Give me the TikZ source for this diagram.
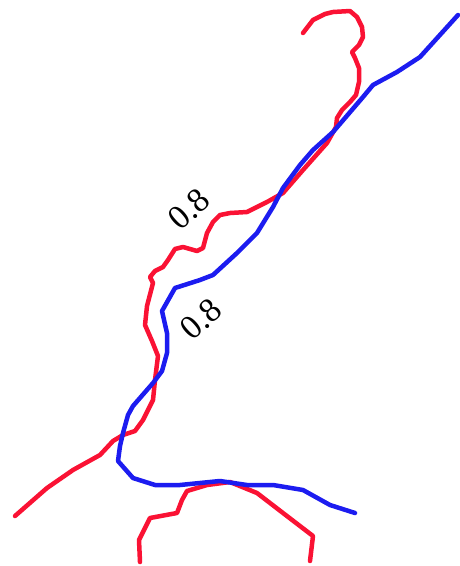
\documentclass[tikz,border=0pt]{standalone}
\usepackage{fontspec}
\setmainfont{Liberation Serif}
\definecolor{cred}{RGB}{250,18,52}
\definecolor{cblue}{RGB}{28,28,240}
\begin{document}
\begin{tikzpicture}[x=1pt,y=-1pt,
  redline/.style={cred,line width=4.5pt,line join=round,line cap=round},
  blueline/.style={cblue,line width=4.5pt,line join=round,line cap=round},
  lab/.style={font=\fontsize{34}{34}\selectfont,rotate=42,inner sep=0pt}]
\useasboundingbox (0,0) rectangle (459,566);
\draw[redline] (303,33) -- (313,20) -- (325,14) -- (333,12) -- (350,11) -- (357,17) -- (362,27) -- (363,37) -- (359,45) -- (352,52) -- (355,58) -- (359,68) -- (359,82) -- (356,95) -- (350,102) -- (342,110) -- (337,118) -- (336,127) -- (327,143) -- (303,170) -- (283,193) -- (267,202) -- (247,212) -- (230,213) -- (220,215) -- (213,222) -- (207,233) -- (203,248) -- (197,251) -- (183,247) -- (175,249) -- (168,260) -- (163,267) -- (155,271) -- (150,277) -- (153,283) -- (147,306) -- (145,325) -- (152,341) -- (158,356) -- (155,380) -- (153,400) -- (143,420) -- (135,431) -- (123,435) -- (113,441) -- (100,455) -- (73,470) -- (47,488) -- (15,516);
\draw[redline] (140,562) -- (139,540) -- (150,518) -- (177,513) -- (182,500) -- (187,491) -- (207,485) -- (230,482) -- (257,493) -- (283,513) -- (313,536) -- (310,561);
\draw[blueline] (458,15) -- (420,57) -- (397,72) -- (373,85) -- (363,97) -- (333,132) -- (313,150) -- (300,165) -- (283,188) -- (273,207) -- (257,233) -- (237,253) -- (213,275) -- (200,280) -- (175,288) -- (162,311) -- (167,333) -- (167,353) -- (162,371) -- (153,383) -- (133,406) -- (128,415) -- (123,433) -- (120,446) -- (118,461) -- (133,478) -- (155,485) -- (180,485) -- (220,481) -- (247,485) -- (273,485) -- (303,490) -- (330,505) -- (355,513);
\node[lab] (l1) at (189,209) {0.8};
\node[lab] (l2) at (201,319) {0.8};
\end{tikzpicture}
\end{document}
